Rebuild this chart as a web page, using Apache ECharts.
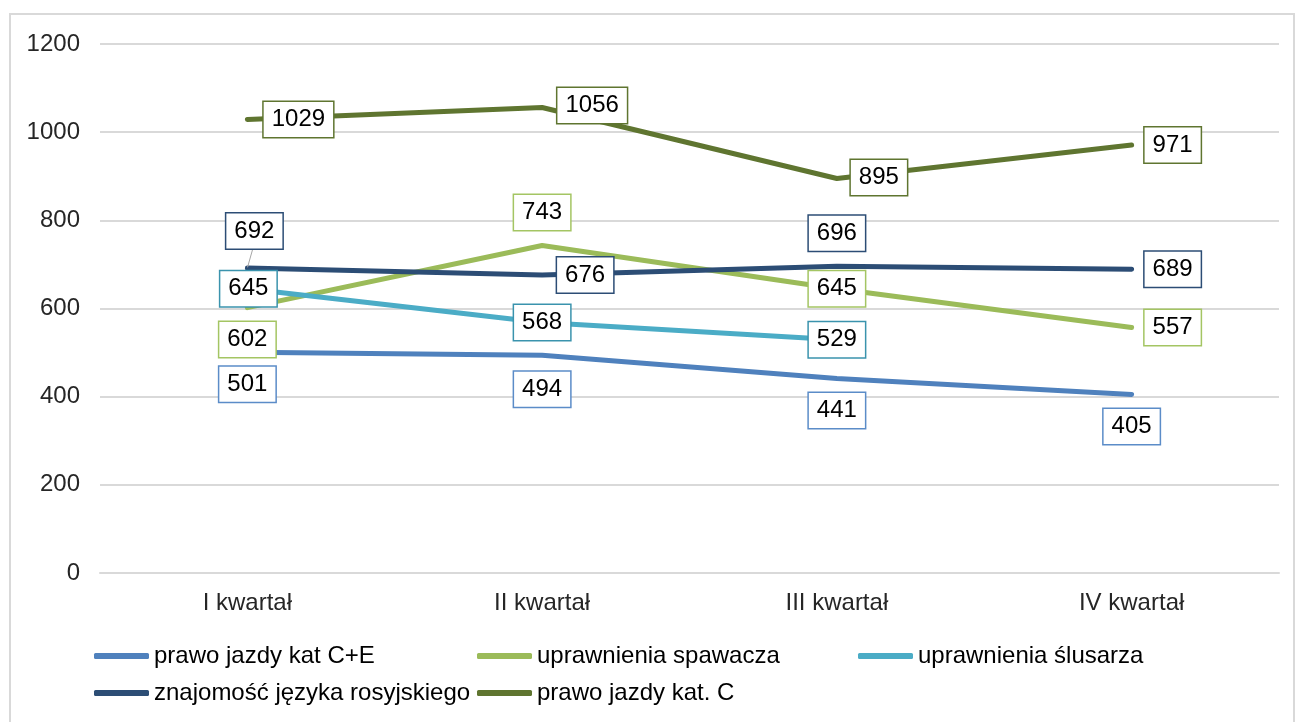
<!DOCTYPE html>
<html>
<head>
<meta charset="utf-8">
<script src="https://cdn.jsdelivr.net/npm/echarts@6/dist/echarts.min.js"></script>
<style>
  html, body { margin: 0; padding: 0; background: #fff; }
  .frame { position: absolute; left: 9px; top: 13px; width: 1282px; height: 720px; border: 2px solid #d9d9d9; }
  #chart { position: absolute; left: 0; top: 0; width: 1295px; height: 722px; }
</style>
</head>
<body>
<div class="frame"></div>
<div id="chart"></div>
<script>
  // dane
  const kwartaly = ['I kwartał', 'II kwartał', 'III kwartał', 'IV kwartał']
  const yTicks = [0, 200, 400, 600, 800, 1000, 1200]

  const prawoJazdyCE = [501, 494, 441, 405]
  const spawacz = [602, 743, 645, 557]
  const slusarz = [645, 568, 529]
  const rosyjski = [692, 676, 696, 689]
  const prawoJazdyC = [1029, 1056, 895, 971]

  // przesunięcia etykiet względem punktu (jak w Excelu)
  const offCE = [[0, 32], [0, 34], [0, 32], [0, 32]]
  const offSpaw = [[0, 32], [0, -33], [0, 0], [41, 0]]
  const offSlus = [[1, 0], [0, 0], [0, 0]]
  const offRos = [[7, -37], [43, 0], [0, -33], [41, 0]]
  const offC = [[51, 0], [50, -2], [42, -1], [41, 0]]

  const FONT = 'Liberation Sans, Arial, sans-serif'
  const chart = echarts.init(document.getElementById('chart'))

  function makeSeries(name, values, color, borderColor, offsets, leader) {
    return {
      name: name,
      type: 'line',
      symbol: 'circle',
      symbolSize: 1,
      color: color,
      lineStyle: { width: 5, cap: 'round', join: 'round' },
      itemStyle: { color: color },
      label: {
        show: true,
        position: 'inside',
        color: '#000',
        fontSize: 24,
        fontFamily: FONT,
        lineHeight: 26,
        backgroundColor: '#fff',
        borderColor: borderColor,
        borderWidth: 1.5,
        padding: [5, 8, 4, 8]
      },
      labelLine: { show: false },
      z: 2,
      data: values.map(function (v, i) {
        const item = { value: v, label: { offset: offsets[i] } }
        if (leader && leader === i + 1) {
          item.labelLine = { show: true, lineStyle: { color: '#a6a6a6', width: 1 } }
        }
        return item
      })
    }
  }

  const legendBase = {
    orient: 'vertical',
    top: 643,
    padding: 0,
    itemWidth: 55,
    itemHeight: 6,
    itemGap: 11,
    icon: 'roundRect',
    textStyle: { fontSize: 24, color: '#000', fontFamily: FONT, lineHeight: 26 }
  }

  var option = {
    animation: false,
    grid: {
      left: 100,
      right: 16,
      top: 44,
      bottom: 149
    },
    legend: [
      Object.assign({}, legendBase, { left: 94, data: ['prawo jazdy kat C+E', 'znajomość języka rosyjskiego'] }),
      Object.assign({}, legendBase, { left: 477, data: ['uprawnienia spawacza', 'prawo jazdy kat. C'] }),
      Object.assign({}, legendBase, { left: 858, data: ['uprawnienia ślusarza'] })
    ],
    xAxis: {
      type: 'category',
      data: kwartaly,
      boundaryGap: true,
      axisTick: { show: false },
      axisLine: { lineStyle: { color: '#d9d9d9', width: 2 } },
      axisLabel: {
        color: '#262626',
        fontSize: 24,
        fontFamily: FONT,
        margin: 18
      }
    },
    yAxis: {
      type: 'value',
      min: yTicks[0],
      max: yTicks[yTicks.length - 1],
      interval: 200,
      axisTick: { show: false },
      axisLine: { show: false },
      axisLabel: {
        color: '#262626',
        fontSize: 24,
        fontFamily: FONT,
        margin: 20,
        formatter: function (v) { return String(v) }
      },
      splitLine: { lineStyle: { color: '#d9d9d9', width: 2 } }
    },
    series: [
      makeSeries('prawo jazdy kat C+E', prawoJazdyCE, '#4F81BD', '#5B8CC8', offCE),
      makeSeries('uprawnienia spawacza', spawacz, '#9BBB59', '#A4C563', offSpaw),
      makeSeries('uprawnienia ślusarza', slusarz, '#4BACC6', '#3A93AD', offSlus),
      makeSeries('znajomość języka rosyjskiego', rosyjski, '#2C4D75', '#2C4D75', offRos, 1),
      makeSeries('prawo jazdy kat. C', prawoJazdyC, '#5F7530', '#5F7530', offC)
    ]
  }
  chart.setOption(option)
</script>
</body>
</html>
